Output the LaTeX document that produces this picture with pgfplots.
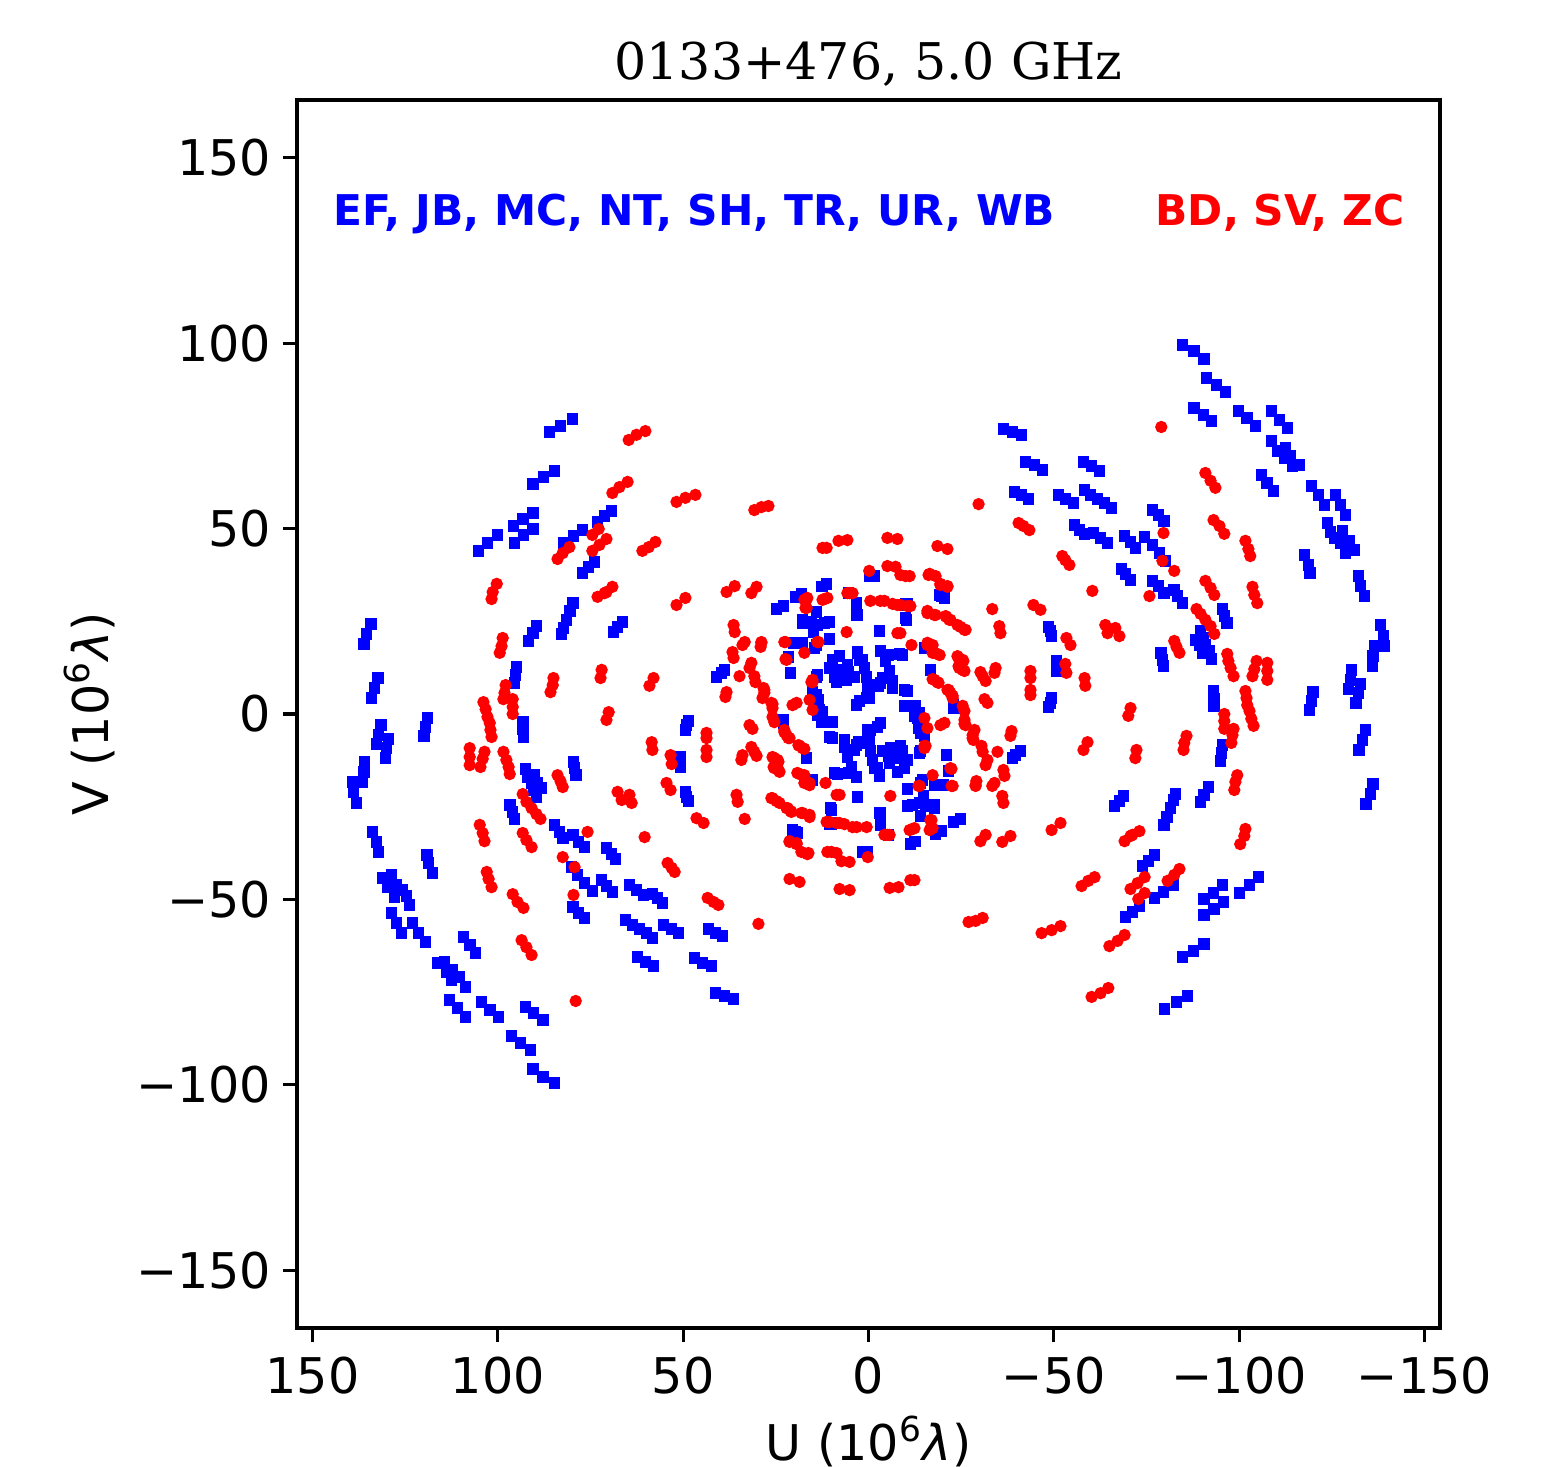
\documentclass[border=0pt]{standalone}
\usepackage{fontspec}
\setmainfont{DejaVu Sans}
\newfontfamily\titlefont{DejaVu Serif}
\usepackage{pgfplots}
\usepackage{pgfplotstable}
\pgfplotsset{compat=1.18}

% half of the uv coverage (U>0); the other half is the conjugate (-u,-v)
\pgfplotstableread{
u v
86.1 76.1
83.1 77.7
79.9 79.6
90.6 62.0
87.7 63.9
84.7 65.6
105.2 44.0
102.8 46.1
100.1 48.3
95.8 50.7
93.3 52.6
90.6 54.2
95.5 46.1
93.1 48.3
90.6 49.9
82.3 46.1
79.6 48.0
77.2 49.6
73.1 51.8
71.2 53.4
69.3 54.8
77.2 38.0
75.5 39.7
73.9 41.0
79.8 29.9
80.6 27.8
81.5 25.4
82.3 23.2
82.8 21.6
134.3 24.3
135.4 21.6
136.2 18.9
132.4 9.7
133.3 7.0
134.1 4.3
131.6 -3.0
132.2 -5.7
132.7 -8.1
129.5 -6.7
130.0 -9.2
130.3 -11.9
136.0 -12.9
136.2 -15.6
136.5 -18.3
139.2 -18.3
138.9 -21.0
138.1 -24.0
119.0 -1.1
119.5 -3.5
120.0 -5.9
89.6 23.7
90.6 21.8
91.7 19.7
95.0 12.7
95.2 10.5
95.5 8.4
93.3 -2.2
93.3 -4.0
93.1 -6.2
92.5 -14.8
92.0 -17.0
90.9 -18.6
90.4 -20.5
89.6 -22.4
90.1 -16.5
89.3 -18.6
88.2 -20.0
79.6 -12.9
79.3 -14.6
79.0 -16.5
96.8 -24.5
96.0 -26.4
95.5 -28.3
133.8 -31.8
132.7 -34.5
132.2 -37.2
119.2 -38.0
118.7 -40.2
117.6 -42.9
131.1 -44.2
128.7 -43.4
129.8 -46.7
127.3 -46.1
127.9 -49.4
125.7 -47.5
124.6 -49.1
123.8 -51.5
128.7 -53.7
127.3 -56.4
126.0 -59.1
123.0 -56.4
121.4 -59.1
119.5 -61.5
109.3 -60.2
107.6 -62.3
106.0 -64.5
116.3 -67.2
114.4 -66.9
113.8 -69.6
112.2 -69.1
112.5 -71.8
110.3 -70.9
108.7 -73.6
113.0 -77.2
110.9 -79.3
108.7 -81.7
104.4 -77.7
102.2 -79.8
99.8 -81.7
92.5 -79.0
90.4 -80.7
87.9 -82.5
96.3 -86.9
93.9 -88.8
91.2 -90.6
90.6 -95.8
87.9 -97.9
84.7 -99.5
79.8 -32.6
78.2 -34.5
76.6 -35.9
84.7 -29.9
83.4 -31.8
82.5 -33.4
80.1 -41.3
78.5 -43.4
76.6 -45.6
74.5 -47.7
79.8 -52.1
78.2 -53.7
76.6 -55.0
70.7 -36.1
69.3 -37.8
68.3 -39.1
72.0 -44.8
70.7 -46.4
69.1 -48.0
64.5 -46.1
62.6 -47.5
60.7 -48.8
58.3 -48.6
56.9 -49.6
55.6 -51.0
65.6 -55.6
63.7 -56.9
61.8 -58.0
59.9 -59.1
58.3 -60.4
55.3 -56.9
53.1 -58.0
51.3 -59.1
62.3 -65.6
60.2 -66.9
58.0 -68.0
46.9 -65.8
44.8 -67.2
42.4 -68.0
43.2 -58.0
41.3 -59.1
39.4 -59.9
41.3 -75.3
38.8 -76.1
36.4 -76.9
68.8 22.1
67.7 23.5
66.4 24.8
41.0 10.0
39.7 11.1
38.8 11.9
49.4 -4.3
49.1 -3.0
48.6 -1.9
50.7 -11.6
50.7 -12.9
50.7 -14.3
49.4 -21.0
49.1 -22.4
48.6 -23.5
20.5 -31.3
19.2 -32.1
10.5 -29.7
1.6 -37.2
0.3 -37.2
11.3 35.1
12.5 34.4
18.1 32.4
19.5 31.5
24.8 28.3
22.9 29.1
14.0 27.5
17.8 24.5
15.4 24.8
11.9 24.5
10.5 24.8
17.8 25.4
15.9 24.5
13.8 24.0
14.8 22.1
20.2 19.2
17.8 19.2
14.6 17.8
14.0 18.6
10.5 20.2
21.6 15.4
21.0 11.1
7.8 15.6
9.7 14.6
3.0 16.7
2.4 14.6
3.0 16.5
1.6 14.6
10.5 12.4
7.8 11.9
5.7 13.2
5.4 11.3
9.2 10.0
7.0 10.0
3.8 10.0
1.1 12.4
0.5 10.0
8.6 8.6
5.9 9.2
0.3 7.3
0.5 4.3
14.0 10.0
13.8 10.5
15.1 5.9
14.0 5.1
13.5 3.8
13.2 1.1
12.4 0.5
13.8 -0.3
3.2 2.4
2.4 3.5
0.3 4.6
22.9 -1.6
23.2 -1.6
22.9 -2.4
9.7 -2.2
12.7 -2.2
5.4 32.6
3.2 29.9
3.0 26.7
3.2 26.7
10.5 -6.2
9.7 -6.5
6.5 -7.0
6.5 -8.9
3.2 -8.4
2.7 -7.6
3.8 -9.7
0.2 -7.8
0.1 -4.3
5.7 -11.6
16.7 -11.9
4.6 -14.3
9.2 -15.9
8.4 -16.2
5.4 -15.9
3.2 -17.0
15.1 -17.8
3.0 -22.4
10.3 -25.4
10.0 -25.9
9.7 -29.4
10.0 -29.7
19.7 -31.8
0.8 -37.2
}\bluehalf

\pgfplotstableread{
u v
101.7 31.0
101.4 32.9
100.3 35.1
83.9 41.8
82.5 43.4
80.7 45.0
74.5 48.3
72.8 49.9
74.5 44.0
72.6 45.6
70.7 47.2
73.1 31.6
70.7 32.9
64.7 73.9
62.6 75.3
60.2 76.3
69.1 59.6
67.2 61.2
65.0 62.6
51.8 57.2
49.4 58.3
46.7 59.1
30.8 55.0
28.9 55.8
27.0 56.1
61.0 44.0
59.3 45.0
57.5 46.4
12.4 44.8
11.3 44.8
8.1 46.7
5.7 46.9
71.2 32.6
69.1 34.3
51.8 29.4
49.4 31.3
38.3 32.9
36.1 34.5
31.6 32.6
30.2 34.3
17.3 30.8
16.5 31.3
17.0 28.6
12.4 30.8
11.1 31.3
5.7 32.6
4.3 32.6
98.7 20.5
99.0 18.3
99.5 16.5
85.0 9.7
85.2 7.8
85.8 5.9
72.0 11.9
72.3 9.7
97.9 7.8
98.2 5.7
98.5 4.0
96.0 4.0
96.0 1.9
96.0 0.0
103.9 3.2
103.3 1.3
102.8 -0.8
102.2 -2.4
102.0 -4.3
101.7 -6.2
107.6 -9.2
107.6 -11.6
107.6 -13.8
103.6 -10.2
104.1 -12.1
104.7 -14.3
98.5 -10.2
97.7 -12.4
97.1 -14.3
96.8 -16.2
83.9 -16.5
83.1 -18.1
82.5 -19.7
93.3 -21.6
92.3 -23.7
90.9 -25.4
89.6 -27.0
88.5 -28.3
70.7 -1.6
70.1 0.5
59.1 7.6
58.0 9.7
58.5 -7.6
58.3 -9.7
53.4 -11.1
53.1 -13.5
67.7 -21.0
66.6 -23.2
64.5 -21.8
63.9 -24.0
54.5 -18.6
53.4 -20.5
46.4 -28.1
44.5 -29.4
36.4 24.0
36.1 22.1
33.4 19.4
34.0 18.6
28.9 19.4
29.1 18.1
36.7 16.7
36.4 15.1
31.6 13.8
32.1 12.4
30.8 10.2
30.5 8.6
34.8 10.2
38.3 5.9
38.6 4.6
28.3 7.0
28.1 5.7
28.6 4.3
26.2 3.0
25.9 1.6
25.9 -0.8
25.4 -2.2
32.1 -3.0
31.3 -4.0
22.7 -4.3
22.1 -5.7
21.3 -6.5
31.6 -8.9
30.8 -10.2
30.2 -11.3
43.7 -5.1
43.7 -6.5
43.7 -9.7
43.7 -11.6
34.0 -11.1
34.3 -12.4
25.9 -11.6
24.3 -12.9
25.6 -14.3
24.0 -15.6
18.9 -8.4
17.3 -9.4
19.2 -15.9
17.3 -16.5
15.9 -18.6
35.6 -21.8
35.3 -23.7
26.2 -22.7
24.0 -24.0
22.1 -25.4
20.8 -26.4
18.1 -26.7
15.9 -27.8
33.4 -28.3
20.5 2.4
19.4 3.0
15.4 8.6
15.1 9.2
15.9 3.8
15.1 1.1
22.7 19.4
22.1 14.6
17.3 16.5
13.8 19.4
5.9 22.1
8.6 -21.8
7.8 -21.8
11.6 -18.6
10.5 -29.1
7.8 -29.4
4.3 -30.5
60.4 -33.2
54.2 -40.2
53.1 -41.5
52.3 -42.6
43.4 -49.6
41.8 -50.7
40.5 -51.5
29.7 -56.6
21.3 -34.5
19.4 -35.1
18.1 -37.2
16.5 -37.8
21.3 -44.5
18.6 -45.3
11.1 -37.2
8.6 -37.5
7.3 -39.7
5.1 -39.9
7.8 -47.2
5.1 -47.5
11.3 -29.1
8.6 -29.4
6.5 -29.7
3.2 -30.5
0.5 -30.5
104.9 -29.9
104.1 -32.1
103.6 -34.3
93.3 -32.1
92.3 -34.0
90.9 -35.9
103.0 -42.6
102.5 -44.5
101.7 -46.7
96.0 -48.6
94.7 -50.7
93.1 -52.3
93.6 -61.0
92.3 -62.9
90.9 -65.0
79.0 -77.4
82.5 -38.6
79.3 -41.3
79.6 -48.8
75.8 -31.8
16.7 31.0
11.9 31.0
5.1 32.6
16.7 28.6
22.4 19.4
28.9 19.2
13.5 19.4
22.4 14.8
15.1 8.6
28.1 6.5
25.9 2.7
22.7 -4.9
21.6 -6.5
18.6 -8.6
17.8 -9.2
25.4 -11.9
24.5 -12.4
25.4 -14.6
24.3 -15.1
18.6 -16.2
17.5 -16.7
17.3 -18.6
15.9 -19.2
25.9 -22.7
24.8 -23.5
21.8 -25.4
21.0 -26.2
17.8 -26.7
15.9 -27.2
21.3 -34.3
19.4 -34.8
16.2 -37.5
10.0 -37.2
0.2 -38.6
}\redhalf

\begin{document}
\begin{tikzpicture}
\begin{axis}[
  scale only axis,
  width=11.43cm, height=12.28cm,
  xmin=-154.2, xmax=154.2,
  ymin=-165.6, ymax=165.6,
  x dir=reverse,
  xtick={-150,-100,-50,0,50,100,150},
  xticklabels={−150,−100,−50,0,50,100,150},
  ytick={-150,-100,-50,0,50,100,150},
  yticklabels={−150,−100,−50,0,50,100,150},
  tick pos=left,
  tick align=outside,
  major tick length=0.14cm,
  axis line style={line width=0.9pt},
  every tick/.style={black, line width=0.9pt},
  ticklabel style={font=\fontsize{14}{16}\selectfont},
  xticklabel style={anchor=base, inner sep=0pt, yshift=-0.51cm},
  yticklabel style={anchor=east, inner sep=0pt, xshift=-0.11cm},
]
\addplot[only marks, mark=square*, mark size=1.45pt, color=blue, mark options={draw=none, fill=blue}] table {\bluehalf};
\addplot[only marks, mark=square*, mark size=1.45pt, color=blue, mark options={draw=none, fill=blue}] table[x expr=-\thisrow{u}, y expr=-\thisrow{v}] {\bluehalf};
\addplot[only marks, mark=*, mark size=1.55pt, color=red, mark options={draw=none, fill=red}] table {\redhalf};
\addplot[only marks, mark=*, mark size=1.55pt, color=red, mark options={draw=none, fill=red}] table[x expr=-\thisrow{u}, y expr=-\thisrow{v}] {\redhalf};
\coordinate (sw) at (axis description cs:0,0);
\coordinate (tc) at (axis description cs:0.5,1);
\coordinate (bc) at (axis description cs:0.5,0);
\coordinate (lc) at (axis description cs:0,0.5);
\coordinate (lt) at (axis description cs:0.0315,0.8974);
\coordinate (rt) at (axis description cs:0.9694,0.8974);
\end{axis}
\node[anchor=base, inner sep=0pt, font=\titlefont\fontsize{14.4}{17}\selectfont] at ([yshift=0.2cm]tc) {0133+476, 5.0 GHz};
\node[anchor=base, inner sep=0pt, font=\fontsize{14}{16}\selectfont] at ([yshift=-1.32cm]bc) {U (10\textsuperscript{6}{\itshape λ})};
\node[anchor=base, rotate=90, inner sep=0pt, font=\fontsize{14}{16}\selectfont] at ([xshift=-1.89cm]lc) {V (10\textsuperscript{6}{\itshape λ})};
\node[anchor=base west, inner sep=0pt, text=blue, font=\bfseries\fontsize{12.05}{14}\selectfont] at (lt) {EF, JB, MC, NT, SH, TR, UR, WB};
\node[anchor=base east, inner sep=0pt, text=red, font=\bfseries\fontsize{12.05}{14}\selectfont] at (rt) {BD, SV, ZC};
\pgfresetboundingbox
\path (sw) ++(-2.97cm,-1.38cm) rectangle ++(15.51cm,14.66cm);
\end{tikzpicture}
\end{document}
